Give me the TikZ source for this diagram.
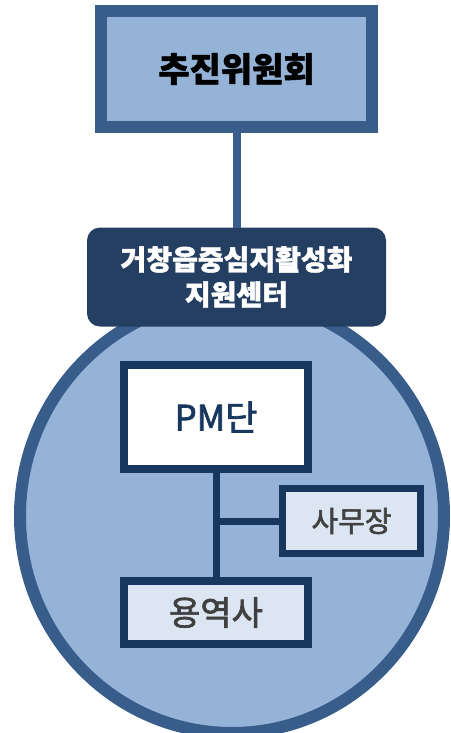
\documentclass[tikz,border=0pt]{standalone}
\usepackage{fontspec}
\setmainfont{Noto Sans CJK KR}[BoldFeatures={FakeBold=1.5}]
\newfontfamily\medfont[FakeBold=2]{Noto Sans CJK KR}
\usetikzlibrary{shapes.geometric}
\definecolor{lblue}{HTML}{95B3D7}
\definecolor{mblue}{HTML}{385D8A}
\definecolor{dnavy}{HTML}{253F62}
\definecolor{bnavy}{HTML}{17375E}
\definecolor{pale}{HTML}{DCE6F2}
\definecolor{dgray}{HTML}{404040}
\tikzset{
  x=1pt, y=-1pt,
  innerbox/.style={draw=bnavy, line width=7.5pt, rectangle, inner sep=0pt, outer sep=0pt},
  conn/.style={draw=bnavy, line width=7pt},
}
\begin{document}
\begin{tikzpicture}
\useasboundingbox (0,0) rectangle (450,733);
% top committee
\node[draw=mblue, fill=lblue, line width=12pt, minimum width=271pt, minimum height=116pt, inner sep=0pt, outer sep=0pt,
      font=\fontsize{34}{38}\selectfont\bfseries] (top) at (236.5,69) {추진위원회};
% circle
\node[ellipse, draw=mblue, fill=lblue, line width=12pt, minimum width=424pt, minimum height=434pt, inner sep=0pt] (circ) at (232,516) {};
% center
\node[fill=dnavy, rounded corners=13pt, minimum width=299pt, minimum height=99pt, inner sep=0pt, outer sep=0pt,
      text=white, align=center, font=\fontsize{28}{35}\selectfont\bfseries] (ctr) at (236.5,277) {거창읍중심지활성화\\지원센터};
\draw[draw=mblue, line width=8pt] (top.south) -- (ctr.north);
% inner boxes
\node[innerbox, fill=white, minimum width=184pt, minimum height=104pt, text=bnavy, font=\fontsize{35}{38}\medfont] (pm) at (216,417) {PM단};
\node[innerbox, fill=pale, minimum width=138pt, minimum height=65pt, text=dgray, font=\fontsize{29}{32}\medfont] (sa) at (351.5,521) {사무장};
\node[innerbox, fill=pale, minimum width=184pt, minimum height=63pt, text=dgray, font=\fontsize{34}{36}\medfont] (yy) at (216,612.5) {용역사};
\draw[conn] (pm.south) -- (yy.north);
\coordinate (br) at (pm.south |- sa.west);
\draw[conn] (br) -- (sa.west);
\end{tikzpicture}
\end{document}
